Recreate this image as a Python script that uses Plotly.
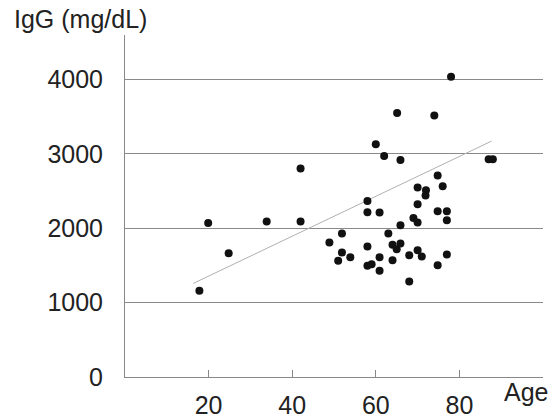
import plotly.graph_objects as go

# Data
age = [17.8, 19.9, 24.8, 33.9, 42.0, 42.0, 48.9, 51.9, 51.9, 51.0,
       53.9, 58.0, 58.0, 60.9, 58.0, 58.0, 59.0, 60.9, 60.9, 60.0,
       62.0, 63.0, 64.0, 64.0, 65.0, 65.9, 65.9, 65.1, 65.9, 68.0,
       68.0, 69.0, 70.0, 70.0, 70.0, 70.0, 71.0, 71.9, 72.0, 74.0,
       74.8, 74.8, 74.8, 76.0, 77.0, 77.0, 77.0, 78.0, 87.0, 88.0]
igg = [1158, 2071, 1664, 2090, 2801, 2090, 1808, 1928, 1673, 1561,
       1610, 2366, 2214, 2210, 1753, 1494, 1516, 1610, 1427, 3127,
       2970, 1928, 1776, 1570, 1718, 1794, 2040, 3547, 2916, 1637,
       1284, 2138, 2076, 2322, 2546, 1704, 1620, 2438, 2510, 3516,
       2707, 2228, 1503, 2563, 2228, 2107, 1646, 4035, 2926, 2926]

trend_x = [16.3, 87.7]
trend_y = [1257, 3171]

x_ticks = [20, 40, 60, 80]
y_ticks = [0, 1000, 2000, 3000, 4000]

FONT = "Liberation Sans, Arial, sans-serif"
TXT = "#222222"
FS = 25

fig = go.Figure()
fig.add_trace(go.Scatter(x=trend_x, y=trend_y, mode="lines",
                         line=dict(color="#b0b0b0", width=1), hoverinfo="skip"))
fig.add_trace(go.Scatter(x=age, y=igg, mode="markers",
                         marker=dict(color="#111111", size=8, line=dict(width=0))))

fig.update_layout(
    width=555, height=418,
    margin=dict(l=125, r=12, t=35, b=41, autoexpand=False),
    paper_bgcolor="white", plot_bgcolor="white",
    showlegend=False,
    font=dict(family=FONT, size=FS, color=TXT),
    xaxis=dict(range=[0, 100], tickvals=x_ticks, ticktext=[str(v) for v in x_ticks],
               ticks="inside", ticklen=7, tickcolor="#888888", tickwidth=1,
               showline=True, linecolor="#888888", linewidth=1,
               showgrid=False, zeroline=False, ticklabelstandoff=6,
               automargin=False,
               tickfont=dict(family=FONT, size=FS, color=TXT), fixedrange=True),
    yaxis=dict(range=[0, 4597], tickvals=y_ticks, ticktext=[str(v) for v in y_ticks],
               ticks="", showline=True, linecolor="#888888", linewidth=1,
               showgrid=True, gridcolor="#8a8a8a", gridwidth=1, zeroline=False,
               ticklabelstandoff=16, automargin=False,
               tickfont=dict(family=FONT, size=FS, color=TXT), fixedrange=True),
    annotations=[
        dict(text="IgG (mg/dL)", xref="paper", yref="paper", x=-0.270, y=1.047,
             xanchor="left", yanchor="middle", showarrow=False,
             font=dict(family=FONT, size=FS, color=TXT)),
        dict(text="Age", xref="paper", yref="paper", x=1.017, y=-0.044,
             xanchor="right", yanchor="middle", showarrow=False,
             font=dict(family=FONT, size=FS, color=TXT)),
    ],
)

fig.write_html("out.html",
               config={"displayModeBar": False, "staticPlot": True},
               post_script="document.body.style.margin='0';document.body.style.overflow='hidden';")
